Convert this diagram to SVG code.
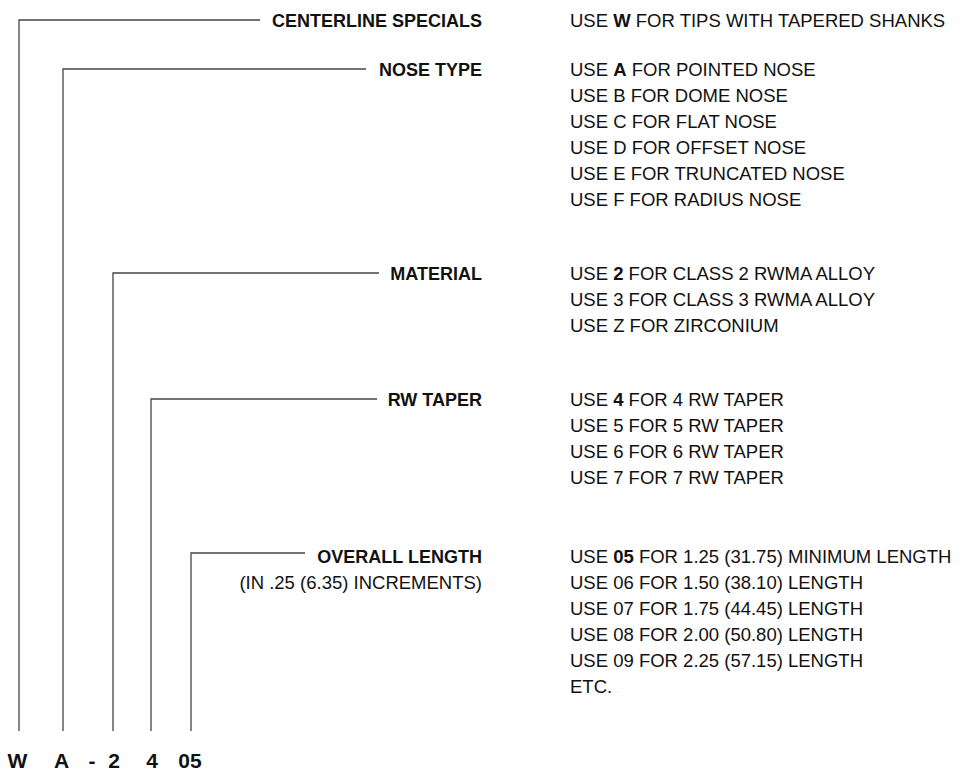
<svg xmlns="http://www.w3.org/2000/svg" width="970" height="772" viewBox="0 0 970 772">
<style>
text{font-family:"Liberation Sans",Arial,sans-serif;font-size:18.5px;fill:#111}
.b{font-weight:bold}
.lab{font-weight:bold;text-anchor:end;font-size:18px}
.code{font-weight:bold;font-size:21px;text-anchor:middle}
.ln{fill:none;stroke:#444;stroke-width:1.3}
</style>
<rect width="970" height="772" fill="#fff"/>
<g id="connectors">
<path class="ln" d="M19,731 V20 H260"/>
<path class="ln" d="M63,731 V69 H366"/>
<path class="ln" d="M113,731 V273 H379"/>
<path class="ln" d="M151,731 V399 H377"/>
<path class="ln" d="M191,731 V553 H305"/>
</g>
<g id="centerline">
<text class="lab" x="482" y="26.5">CENTERLINE SPECIALS</text>
<text x="570" y="26.5">USE <tspan class="b">W</tspan> FOR TIPS WITH TAPERED SHANKS</text>
</g>
<g id="nose">
<text class="lab" x="482" y="75.5">NOSE TYPE</text>
<text x="570" y="75.5">USE <tspan class="b">A</tspan> FOR POINTED NOSE</text>
<text x="570" y="101.5">USE B FOR DOME NOSE</text>
<text x="570" y="127.5">USE C FOR FLAT NOSE</text>
<text x="570" y="153.5">USE D FOR OFFSET NOSE</text>
<text x="570" y="179.5">USE E FOR TRUNCATED NOSE</text>
<text x="570" y="205.5">USE F FOR RADIUS NOSE</text>
</g>
<g id="material">
<text class="lab" x="482" y="280">MATERIAL</text>
<text x="570" y="280">USE <tspan class="b">2</tspan> FOR CLASS 2 RWMA ALLOY</text>
<text x="570" y="306">USE 3 FOR CLASS 3 RWMA ALLOY</text>
<text x="570" y="332">USE Z FOR ZIRCONIUM</text>
</g>
<g id="rwtaper">
<text class="lab" x="482" y="406">RW TAPER</text>
<text x="570" y="406">USE <tspan class="b">4</tspan> FOR 4 RW TAPER</text>
<text x="570" y="432">USE 5 FOR 5 RW TAPER</text>
<text x="570" y="458">USE 6 FOR 6 RW TAPER</text>
<text x="570" y="484">USE 7 FOR 7 RW TAPER</text>
</g>
<g id="length">
<text class="lab" x="482" y="563">OVERALL LENGTH</text>
<text x="482" y="589" text-anchor="end">(IN .25 (6.35) INCREMENTS)</text>
<text x="570" y="563">USE <tspan class="b">05</tspan> FOR 1.25 (31.75) MINIMUM LENGTH</text>
<text x="570" y="589">USE 06 FOR 1.50 (38.10) LENGTH</text>
<text x="570" y="615">USE 07 FOR 1.75 (44.45) LENGTH</text>
<text x="570" y="641">USE 08 FOR 2.00 (50.80) LENGTH</text>
<text x="570" y="667">USE 09 FOR 2.25 (57.15) LENGTH</text>
<text x="570" y="693">ETC.</text>
</g>
<g id="code">
<text class="code" x="17.5" y="768">W</text>
<text class="code" x="61.5" y="768">A</text>
<text class="code" x="92" y="768">-</text>
<text class="code" x="114" y="768">2</text>
<text class="code" x="152" y="768">4</text>
<text class="code" x="190" y="768">05</text>
</g>
</svg>
